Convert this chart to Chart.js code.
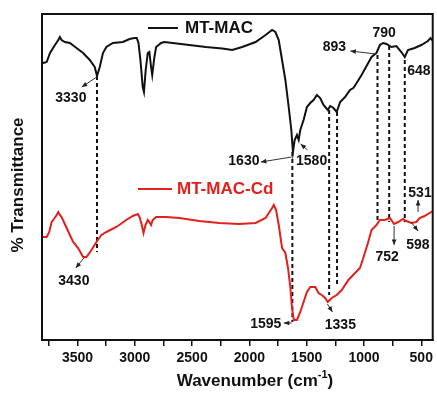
<!DOCTYPE html>
<html>
<head>
<meta charset="utf-8">
<script src="https://cdn.jsdelivr.net/npm/chart.js@4.4.0/dist/chart.umd.min.js"></script>
<style>
  html, body { margin: 0; padding: 0; background: #fff; }
  #wrap { width: 437px; height: 395px; position: relative; }
</style>
</head>
<body>
<div id="wrap"><canvas id="ftir"></canvas></div>
<script>
// FTIR spectra (y in arbitrary transmittance units)
const blackWave = [3810, 3799, 3769, 3740, 3697, 3668, 3654, 3639, 3610, 3567, 3509, 3451, 3393, 3350, 3330, 3306, 3278, 3248, 3191, 3104, 3046, 3003, 2983, 2968, 2951, 2931, 2920, 2905, 2887, 2873, 2858, 2848, 2829, 2814, 2771, 2742, 2670, 2525, 2380, 2236, 2150, 2063, 1946, 1859, 1802, 1773, 1744, 1715, 1686, 1657, 1634, 1620, 1605, 1585, 1570, 1556, 1527, 1498, 1469, 1440, 1411, 1382, 1353, 1316, 1295, 1266, 1238, 1208, 1165, 1122, 1093, 1064, 1021, 963, 934, 891, 861, 833, 804, 760, 717, 674, 644, 616, 558, 500, 442, 419, 400];
const blackT = [277, 277, 278, 287, 295, 300, 303, 300, 298, 297, 292, 287, 280, 273, 264, 273, 287, 293, 297, 298, 301, 302, 302, 297, 280, 253, 248, 270, 287, 288, 273, 265, 283, 293, 297, 298, 297, 295, 293, 291.5, 290, 293, 298, 305, 310, 308, 300, 280, 260, 233, 210, 188, 200, 205, 200, 210, 220, 233, 237, 240, 245, 242, 235, 230, 234, 232, 228, 238, 243, 250, 252, 257, 265, 277, 283, 287, 295, 297, 296, 293, 294, 288, 283, 290, 292, 295, 299, 302, 299];

const redWave = [3810, 3799, 3769, 3747, 3726, 3706, 3682, 3668, 3654, 3639, 3619, 3595, 3567, 3538, 3495, 3451, 3422, 3378, 3335, 3292, 3248, 3161, 3075, 3017, 2974, 2959, 2939, 2924, 2907, 2887, 2873, 2858, 2844, 2814, 2727, 2612, 2438, 2264, 2091, 1946, 1859, 1802, 1787, 1767, 1744, 1715, 1686, 1663, 1642, 1628, 1613, 1585, 1556, 1527, 1498, 1469, 1425, 1397, 1368, 1339, 1316, 1281, 1238, 1194, 1136, 1078, 1035, 1006, 963, 934, 891, 861, 818, 774, 737, 702, 659, 630, 587, 543, 514, 471, 413, 400];
const redT = [103, 103, 103, 108, 118, 121, 125, 128, 125, 123, 118, 112, 105, 98, 92, 83, 83, 90, 98, 105, 108, 113, 120, 124, 126, 123, 115, 107, 115, 120, 118, 115, 120, 123, 123, 122, 119, 117, 116, 117, 122, 132, 135, 130, 115, 92, 87, 72, 52, 32, 20, 20, 28, 38, 48, 53, 53, 47, 45, 42, 38, 42, 45, 50, 60, 67, 72, 82, 98, 110, 115, 120, 120, 122, 116, 118, 121, 119, 117, 118, 122, 124, 128, 129];

// dashed guide lines: wavenumber, top and bottom value
const guideWave = [3330, 1625, 1304, 1235, 882, 780, 644];
const guideTop = [264, 188, 230, 228, 285, 294, 280];
const guideBottom = [88, 18, 45, 56, 117, 118, 118];

// x-axis ticks
const xTicks = [3750, 3500, 3250, 3000, 2750, 2500, 2250, 2000, 1750, 1500, 1250, 1000, 750, 500];

// peak labels: text, text centre (wave, value), arrow from -> to
const peakText = ['3330', '1630', '1580', '893', '790', '648', '3430', '1595', '1335', '752', '598', '531'];
const peakWave = [3558, 2048, 1457, 1258, 824, 520, 3532, 1857, 1206, 798, 529, 511];
const peakVal = [242, 179, 179, 293, 307, 269, 59, 16, 15, 83, 95, 147];
const arrowFrom = [[3332, 263], [1631, 183], [1492, 190], [893, 286], null, null, [3445, 82], [1631, 17], [1319, 36], [737, 114], [589, 118], [528, 128]];
const arrowTo = [[3463, 253], [1900, 178], [1553, 196], [1119, 289], null, null, [3515, 72], [1700, 17], [1275, 28], [737, 95], [528, 109], [528, 140]];

const FONT = '"Liberation Sans", Arial, sans-serif';
const RED = '#e3201b';

const toPts = (w, t) => w.map((x, i) => ({ x: x, y: t[i] }));

const datasets = [
    { label: 'MT-MAC', data: toPts(blackWave, blackT), borderColor: '#111', borderWidth: 2, pointRadius: 0, tension: 0 },
    { label: 'MT-MAC-Cd', data: toPts(redWave, redT), borderColor: RED, borderWidth: 2, pointRadius: 0, tension: 0 }
];
guideWave.forEach((w, i) => {
    datasets.push({
        label: 'guide' + i,
        data: [{ x: w, y: guideTop[i] }, { x: w, y: guideBottom[i] }],
        borderColor: '#111', borderWidth: 2, borderDash: [4, 3], pointRadius: 0
    });
});

function arrow(ctx, x1, y1, x2, y2) {
    const a = Math.atan2(y2 - y1, x2 - x1);
    ctx.beginPath();
    ctx.moveTo(x1, y1);
    ctx.lineTo(x2, y2);
    ctx.stroke();
    ctx.beginPath();
    ctx.moveTo(x2, y2);
    ctx.lineTo(x2 - 6 * Math.cos(a - 0.4), y2 - 6 * Math.sin(a - 0.4));
    ctx.lineTo(x2 - 6 * Math.cos(a + 0.4), y2 - 6 * Math.sin(a + 0.4));
    ctx.closePath();
    ctx.fill();
}

const decor = {
    id: 'decor',
    afterDatasetsDraw(chart) {
        const ctx = chart.ctx;
        const ca = chart.chartArea;
        const xs = chart.scales.x, ys = chart.scales.y;
        ctx.save();

        // frame
        ctx.strokeStyle = '#111';
        ctx.lineWidth = 2;
        ctx.strokeRect(ca.left, ca.top, ca.right - ca.left, ca.bottom - ca.top);

        // peak labels + arrows
        ctx.font = 'bold 14px ' + FONT;
        ctx.fillStyle = '#111';
        ctx.textAlign = 'center';
        ctx.textBaseline = 'middle';
        peakText.forEach((t, i) => {
            ctx.fillText(t, xs.getPixelForValue(peakWave[i]), ys.getPixelForValue(peakVal[i]));
        });
        ctx.strokeStyle = '#333';
        ctx.fillStyle = '#222';
        ctx.lineWidth = 1;
        arrowFrom.forEach((f, i) => {
            if (!f) return;
            const to = arrowTo[i];
            arrow(ctx, xs.getPixelForValue(f[0]), ys.getPixelForValue(f[1]),
                xs.getPixelForValue(to[0]), ys.getPixelForValue(to[1]));
        });

        // legend entries
        ctx.lineWidth = 2;
        ctx.strokeStyle = '#111';
        ctx.beginPath(); ctx.moveTo(148, 28); ctx.lineTo(178, 28); ctx.stroke();
        ctx.font = 'bold 17px ' + FONT;
        ctx.textAlign = 'left';
        ctx.fillStyle = '#111';
        ctx.fillText('MT-MAC', 185, 28);
        ctx.strokeStyle = RED;
        ctx.beginPath(); ctx.moveTo(138, 189); ctx.lineTo(172, 189); ctx.stroke();
        ctx.fillStyle = RED;
        ctx.fillText('MT-MAC-Cd', 177, 189);

        // axis titles
        ctx.fillStyle = '#111';
        ctx.font = 'bold 17px ' + FONT;
        const t1 = 'Wavenumber (cm', sup = '-1', t2 = ')';
        const w1 = ctx.measureText(t1).width, w3 = ctx.measureText(t2).width;
        ctx.font = 'bold 11px ' + FONT;
        const w2 = ctx.measureText(sup).width;
        let x0 = 255 - (w1 + w2 + w3) / 2;
        ctx.textBaseline = 'alphabetic';
        ctx.font = 'bold 17px ' + FONT;
        ctx.fillText(t1, x0, 386);
        ctx.font = 'bold 11px ' + FONT;
        ctx.fillText(sup, x0 + w1, 378);
        ctx.font = 'bold 17px ' + FONT;
        ctx.fillText(t2, x0 + w1 + w2, 386);

        ctx.translate(18, 185);
        ctx.rotate(-Math.PI / 2);
        ctx.textAlign = 'center';
        ctx.textBaseline = 'middle';
        ctx.fillText('% Transmittance', 0, 0);
        ctx.restore();
    }
};

new Chart(document.getElementById('ftir'), {
    type: 'line',
    data: { datasets: datasets },
    options: {
        responsive: true,
        maintainAspectRatio: false,
        animation: false,
        layout: { padding: { left: 42, right: 2, top: 14, bottom: 0 } },
        plugins: { legend: { display: false }, tooltip: { enabled: false } },
        scales: {
            x: {
                type: 'linear',
                reverse: true,
                min: 400,
                max: 3810,
                afterBuildTicks: (s) => { s.ticks = xTicks.map(v => ({ value: v })); },
                afterFit: (s) => { s.height = 55; },
                grid: { drawOnChartArea: false, color: '#111', lineWidth: 1.5, tickLength: 6 },
                border: { color: '#111', width: 2 },
                ticks: {
                    autoSkip: false,
                    maxRotation: 0,
                    padding: 4,
                    color: '#111',
                    font: { family: FONT, size: 14, weight: 'bold' },
                    callback: (v) => (v % 500 === 0 ? String(v) : '')
                }
            },
            y: {
                display: false,
                min: 0,
                max: 326
            }
        }
    },
    plugins: [decor]
});
</script>
</body>
</html>
